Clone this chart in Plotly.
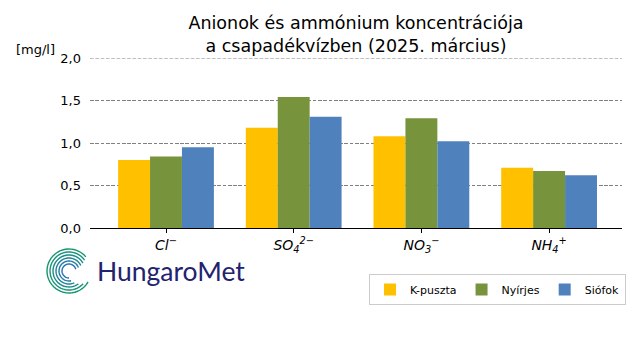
import numpy as np
import plotly.graph_objects as go

categories = ["<i>Cl</i><sup><i>−</i></sup>", "<i>SO</i><sub><i>4</i></sub><sup><i>2−</i></sup>",
              "<i>NO</i><sub><i>3</i></sub><sup><i>−</i></sup>", "<i>NH</i><sub><i>4</i></sub><sup><i>+</i></sup>"]
kpuszta = [0.80, 1.18, 1.08, 0.71]
nyirjes = [0.84, 1.54, 1.29, 0.67]
siofok = [0.95, 1.31, 1.02, 0.62]
series = [("K-puszta", kpuszta, "#FFC000"), ("Nyírjes", nyirjes, "#77933C"), ("Siófok", siofok, "#4F81BD")]

fig = go.Figure()
for name, vals, col in series:
    fig.add_trace(go.Bar(x=categories, y=vals, name=name, marker=dict(color=col, line=dict(width=0))))

L, R, T, B = 90, 622, 58, 228
W, H = 640, 360
unit = 127.7
DASH = "3.7px,1.6px"

def px(x):
    return (x - L) / (R - L)

def py(y):
    return (B - y) / (B - T)

shapes = [dict(type="line", xref="paper", yref="y", x0=0, x1=1, y0=2.0, y1=2.0,
               line=dict(color="#808080", width=1, dash=DASH), layer="below")]
# logo icon: concentric arcs
cx, cy = 69, 271
for i, r in enumerate([22, 19, 16, 13, 10, 7]):
    a0, a1 = np.radians(40 - i * 5), np.radians(330 - i * 12)
    ang = np.linspace(a0, a1, 40)
    pts = [(px(cx + r * np.cos(a)), py(cy - r * np.sin(a))) for a in ang]
    path = "M " + " L ".join(f"{x:.5f},{y:.5f}" for x, y in pts)
    col = ["#15966e", "#1a9478", "#1c8c88", "#1f8496", "#237aa6", "#2a70b0"][i]
    shapes.append(dict(type="path", path=path, xref="paper", yref="paper",
                       line=dict(color=col, width=1.4)))

fig.update_layout(
    width=W, height=H,
    margin=dict(l=L, r=W - R, t=T, b=H - B, autoexpand=False),
    paper_bgcolor="white", plot_bgcolor="white",
    barmode="group", bargap=0.25, bargroupgap=0,
    separators=", ",
    font=dict(family="DejaVu Sans", color="black", size=13),
    title=dict(text="Anionok és ammónium koncentrációja<br>a csapadékvízben (2025. március)",
               x=(L + R) / 2 / W, xanchor="center", y=1 - 29 / H, yanchor="middle",
               font=dict(size=17.5)),
    xaxis=dict(range=[-(166 - L) / unit, (R - 166) / unit], showline=True, linecolor="black",
               linewidth=1.3, ticks="outside", ticklen=4, tickcolor="black", showgrid=False,
               tickfont=dict(size=14)),
    yaxis=dict(range=[0, 2.0], tickvals=[0, 0.5, 1.0, 1.5, 2.0], tickformat=".1f",
               ticks="", ticklabelstandoff=8, showline=False,
               showgrid=True, gridcolor="#808080", griddash=DASH, gridwidth=1,
               zeroline=False, tickfont=dict(size=13)),
    legend=dict(orientation="h", x=px(626), xanchor="right", y=py(289.5), yanchor="middle",
                bordercolor="#cccccc", borderwidth=1, font=dict(size=11),
                itemwidth=30, traceorder="normal", tracegroupgap=0),
    shapes=shapes,
    annotations=[
        dict(text="[mg/l]", xref="paper", yref="paper", x=px(35), y=py(50), showarrow=False,
             xanchor="center", yanchor="middle", font=dict(size=13)),
        dict(text="HungaroMet", xref="paper", yref="paper", x=px(95), y=py(271), showarrow=False,
             xanchor="left", yanchor="middle", font=dict(size=26.5, family="Lato", color="#22226e")),
    ],
)
fig.write_html("out.html", post_script="document.body.style.margin='0';",
               config={"displayModeBar": False})
